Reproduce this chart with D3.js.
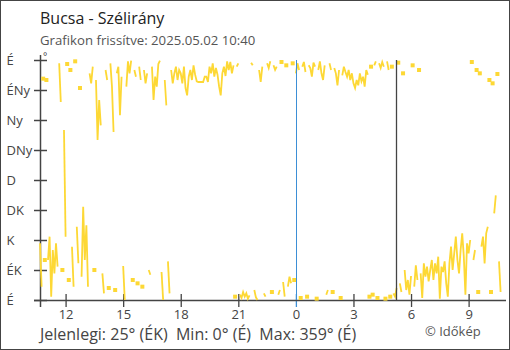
<!DOCTYPE html>
<html><head><meta charset="utf-8">
<script src="https://cdn.jsdelivr.net/npm/d3@7"></script>
<style>
body{margin:0;background:#fff;}
svg{display:block;font-family:"Open Sans",sans-serif;}
</style></head><body>
<svg id="chart" width="510" height="350"></svg>
<script>
// ---- data ----
const title = "Bucsa - Szélirány";
const subtitle = "Grafikon frissítve: 2025.05.02 10:40";
const footerText = "Jelenlegi: 25° (ÉK)  Min: 0° (É)  Max: 359° (É)";
const credit = "© Időkép";
const dirLabels = ["É","ÉK","K","DK","D","DNy","Ny","ÉNy","É"];
const dirValues = [0,45,90,135,180,225,270,315,360];
const hourTickLabels = ["12","15","18","21","0","3","6","9"];
const hourTickDays = [1,1,1,1,2,2,2,2];
const hourTickHours = [12,15,18,21,0,3,6,9];
const startTime = new Date(2025,4,1,10,40);
const endTime = new Date(2025,4,2,10,40);
const stepMinutes = 5;
// wind direction (degrees), one value every 5 minutes from 10:40
const windDir = [
  85, 20, 332, 60,                                   // 10:40
  330, 60, 95, 5, 75, 40, 85, 50, 355, 297, 45, 255,   // 11
  95, 354, 30, 345, 80, 20, 358, 110, 55, 318, 35, 140,// 12
  60, 112, 20, 340, 325, 350, 45, 330, 240, 300, 262, 40,// 13
  10, 345, 330, 18, 355, 320, 252, 15, 340, 350, 277, 335,// 14
  51, 0, 320, 358, 340, 359, 30, 345, 335, 25, 350, 330, // 15
  20, 345, 325, 340, 45, 38, 350, 300, 335, 320, 354, 359,// 16
  42, 0, 330, 292, 58, 10, 345, 325, 340, 350, 330, 345, // 17
  340, 325, 350, 318, 307, 335, 345, 330, 352, 338, 328, 327,// 18
  327, 327, 327, 335, 335, 327, 350, 340, 355, 335, 348, 338,// 19
  320, 307, 340, 350, 336, 358, 345, 357, 340, 352, 5, 350,  // 20
  355, 8, 3, 12, 5, 10, 2, 7, 356, 352, 15, 4,              // 21
  0, 345, 327, 350, 10, 5, 355, 348, 358, 12, 352, 345,     // 22
  350, 8, 15, 357, 27, 5, 352, 20, 35, 25, 355, 30,         // 23
  340, 355, 345, 3, 350, 357, 342, 5, 352, 348, 335, 356,   // 0
  350, 2, 345, 358, 340, 330, 352, 8, 15, 355, 345, 12,     // 1
  348, 340, 322, 345, 3, 337, 350, 342, 335, 345, 330, 340, // 2
  325, 318, 330, 322, 340, 328, 335, 320, 345, 338, 5, 350, // 3
  8, 352, 358, 3, 355, 348, 357, 350, 2, 358, 345, 5,       // 4
  350, 10, 5, 18, 356, 25, 12, 340, 45, 15, 30, 8,          // 5
  36, 352, 20, 52, 30, 345, 40, 3, 55, 35, 50, 28,          // 6
  45, 60, 30, 55, 40, 65, 2, 50, 42, 58, 25, 5,             // 7
  55, 80, 45, 70, 95, 60, 40, 75, 100, 65, 8, 85,           // 8
  70, 90, 357, 60, 75, 345, 12, 340, 80, 95, 55, 100,       // 9
  110, 330, 12, 325, 130, 157, 339, 58, 12                  // 10
];
const midnight = new Date(2025,4,2,0,0);
const sunrise = new Date(2025,4,2,5,14);

// ---- chart ----
const svg = d3.select("#chart");
const W = 510, H = 350;
svg.append("rect").attr("x",0.5).attr("y",0.5).attr("width",W-1).attr("height",H-1)
  .attr("fill","#fff").attr("stroke","#444").attr("stroke-width",1);

const x = d3.scaleTime().domain([startTime,endTime]).range([40,500.6]);
const y = d3.scaleLinear().domain([0,360]).range([300,60]);

svg.append("text").attr("x",40).attr("y",24).attr("font-size",16).attr("fill","#222").text(title);
svg.append("text").attr("x",40).attr("y",44.5).attr("font-size",13.2).attr("fill","#555").text(subtitle);
svg.append("text").attr("x",43).attr("y",59.5).attr("font-size",10).attr("fill","#444").text("°");

// y axis
const yAxis = d3.axisLeft(y).tickValues(dirValues).tickFormat((d,i)=>dirLabels[i]).tickSizeOuter(0);
const gy = svg.append("g").attr("transform","translate(40.5,0)").call(yAxis);
gy.select(".domain").remove();
gy.selectAll(".tick line").attr("x1",-6.5).attr("x2",6.5).attr("stroke","#444").attr("stroke-width",1.5);
gy.selectAll(".tick text").attr("x",-34).attr("text-anchor","start").attr("dy","0.35em")
  .attr("font-size",13).attr("font-family","Open Sans").attr("fill","#444");
svg.append("line").attr("x1",40.5).attr("x2",40.5).attr("y1",55).attr("y2",307).attr("stroke","#444").attr("stroke-width",1.5);

// x axis
const tickDates = hourTickHours.map((h,i)=>new Date(2025,4,hourTickDays[i],h,0));
const xAxis = d3.axisBottom(x).tickValues(tickDates).tickFormat((d,i)=>hourTickLabels[i]).tickSizeOuter(0);
const gx = svg.append("g").attr("transform","translate(0,300.5)").call(xAxis);
gx.select(".domain").remove();
gx.selectAll(".tick line").attr("y1",-6.5).attr("y2",6.5).attr("stroke-width",1.3)
  .attr("stroke",(d)=> d.getTime()===midnight.getTime() ? "#3d8fd6" : "#444");
gx.selectAll(".tick text").attr("y",9.5).attr("font-size",13).attr("font-family","Open Sans").attr("fill","#444");
svg.append("line").attr("x1",34).attr("x2",506).attr("y1",300.5).attr("y2",300.5).attr("stroke","#444").attr("stroke-width",1.5);

// data
const pts = windDir.map((v,i)=>({t:new Date(startTime.getTime()+i*stepMinutes*60000), v}));
const segs = []; let cur = [];
pts.forEach((p,i)=>{ if(i>0 && Math.abs(p.v-pts[i-1].v)>180){segs.push(cur);cur=[];} cur.push(p); });
segs.push(cur);
const line = d3.line().x(d=>x(d.t)).y(d=>y(d.v));
const col = "#fdd835";
const gd = svg.append("g");
gd.selectAll("path").data(segs.filter(s=>s.length>1)).join("path")
  .attr("d",line).attr("fill","none").attr("stroke",col).attr("stroke-width",1.8);
gd.selectAll("rect").data(segs.filter(s=>s.length===1).map(s=>s[0])).join("rect")
  .attr("x",d=>x(d.t)-2).attr("y",d=>y(d.v)-2).attr("width",4).attr("height",4).attr("fill",col);

// vertical markers
svg.append("line").attr("x1",Math.round(x(midnight))+0.5).attr("x2",Math.round(x(midnight))+0.5)
  .attr("y1",y(360)).attr("y2",y(0)).attr("stroke","#3d8fd6").attr("stroke-width",1);
svg.append("line").attr("x1",Math.round(x(sunrise))+0.5).attr("x2",Math.round(x(sunrise))+0.5)
  .attr("y1",y(360)).attr("y2",y(0)).attr("stroke","#444").attr("stroke-width",1.3);

// footer
svg.append("text").attr("x",40).attr("y",340).attr("font-size",16).attr("fill","#444")
  .attr("xml:space","preserve").style("white-space","pre").text(footerText);
svg.append("text").attr("x",425).attr("y",335.5).attr("font-size",13).attr("fill","#555").text(credit);
</script>
</body></html>
